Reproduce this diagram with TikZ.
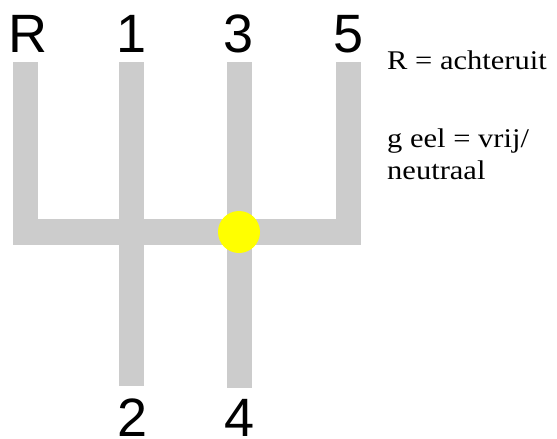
\documentclass[tikz,border=0pt]{standalone}
\usepackage{fontspec}
\setmainfont{Liberation Serif}
\newfontfamily\gearfont{Liberation Sans}
\definecolor{slot}{HTML}{CCCCCC}
\definecolor{knob}{HTML}{FFFF00}
\begin{document}
\begin{tikzpicture}[x=1pt,y=-1pt,
  gate/.style={fill=slot,draw=none},
  gearlabel/.style={inner sep=0pt,anchor=base,font=\gearfont\fontsize{54}{60}\selectfont},
  legend/.style={inner sep=0pt,anchor=base west,font=\fontsize{27}{32}\selectfont,xscale=1.13,transform shape}]
\useasboundingbox (0,0) rectangle (557,439);
\fill[white] (0,0) rectangle (557,439);
% gates
\path[gate] (13,62) rectangle (38,245);
\path[gate] (119,62) rectangle (144,386);
\path[gate] (227,62) rectangle (252,388);
\path[gate] (336,62) rectangle (361,245);
\path[gate] (13,219) rectangle (361,245);
% knob
\fill[knob] (239,232) circle (21);
% labels
\node[gearlabel] (gR) at (28,52) {R};
\node[gearlabel] (g1) at (132,52) {1};
\node[gearlabel] (g3) at (239,52) {3};
\node[gearlabel] (g5) at (349,52) {5};
\node[gearlabel] (g2) at (133,436) {2};
\node[gearlabel] (g4) at (240,436) {4};
% legend
\node[legend] (l1) at (387,69) {R = achteruit};
\node[legend] (l2) at (387,147) {g eel = vrij/};
\node[legend] (l3) at (387,179) {neutraal};
\end{tikzpicture}
\end{document}
